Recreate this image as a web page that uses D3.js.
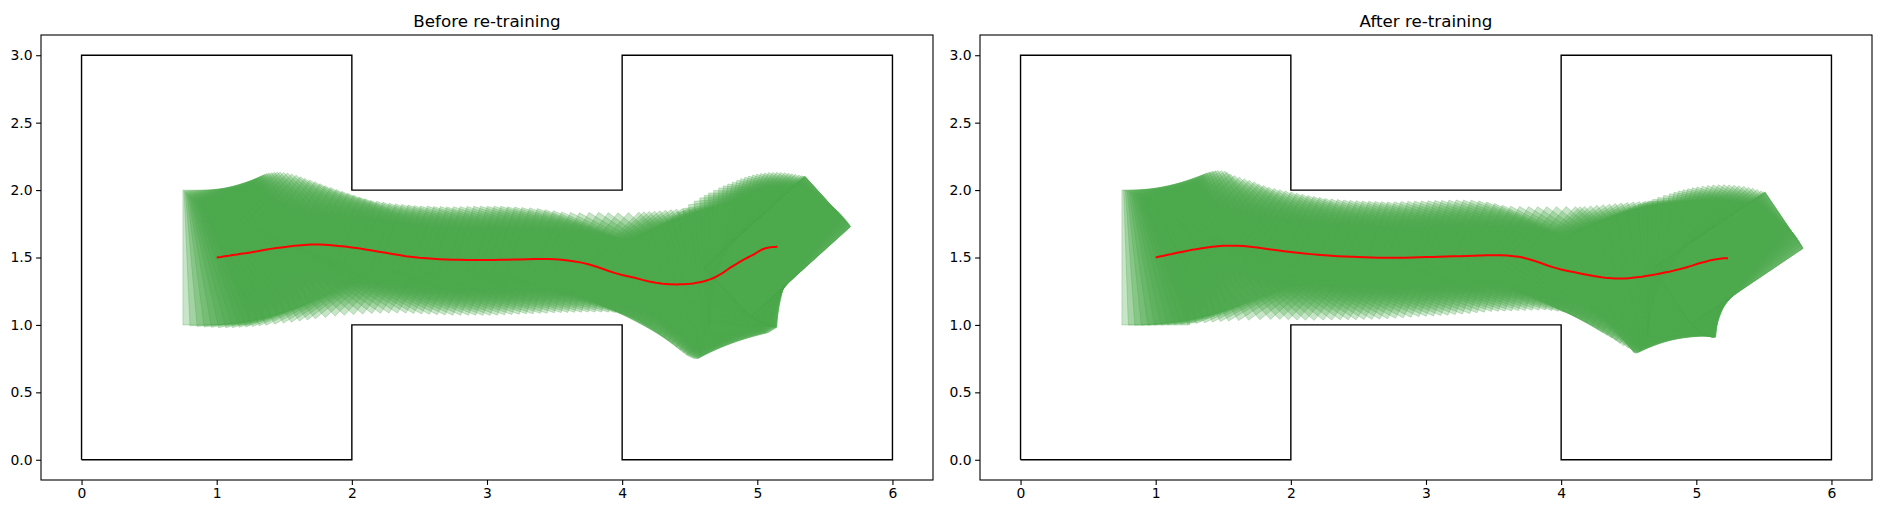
<!DOCTYPE html>
<html>
<head>
<meta charset="utf-8">
<script src="https://cdn.jsdelivr.net/npm/d3@7"></script>
<style>
body { margin: 0; background: #fff; }
text { font-family: "DejaVu Sans", sans-serif; fill: #000; }
</style>
</head>
<body>
<script>
// corridor outline (closed polygon)
var wallX = [0, 2, 2, 4, 4, 6, 6, 4, 4, 2, 2, 0, 0];
var wallY = [0, 0, 1, 1, 0, 0, 3, 3, 2, 2, 3, 3, 0];

var xTicks = [0, 1, 2, 3, 4, 5, 6];
var yTicks = [0, 0.5, 1, 1.5, 2, 2.5, 3];
var titles = ["Before re-training", "After re-training"];

// body states before re-training: centre x, centre y, heading (deg)
var beforeX = [1.00, 1.03, 1.06, 1.09, 1.12, 1.15, 1.18, 1.21, 1.24, 1.27, 1.30, 1.33, 1.36,
  1.40, 1.44, 1.48, 1.52, 1.56, 1.60,
  1.65, 1.70, 1.75, 1.80, 1.85, 1.90, 1.95, 2.00, 2.05, 2.10, 2.15, 2.20, 2.25, 2.30, 2.35, 2.40,
  2.45, 2.50, 2.55, 2.60, 2.65, 2.70, 2.75, 2.80, 2.85, 2.90, 2.95, 3.00, 3.05, 3.10,
  3.15, 3.20, 3.25, 3.30, 3.35, 3.40, 3.45, 3.50, 3.55,
  3.60, 3.65, 3.70, 3.75, 3.80, 3.85, 3.90, 3.95, 4.00, 4.05, 4.10, 4.15, 4.20, 4.25,
  4.30, 4.325, 4.35, 4.375, 4.40, 4.425, 4.45, 4.475, 4.50, 4.525, 4.55, 4.575, 4.60,
  4.625, 4.65, 4.675, 4.70, 4.725, 4.75, 4.775, 4.80, 4.825, 4.85, 4.87, 4.89,
  4.91, 4.93, 4.945, 4.96, 4.975, 4.99, 5.00, 5.01, 5.02, 5.03, 5.04, 5.05,
  5.06, 5.07, 5.08, 5.09, 5.10, 5.11, 5.118, 5.125, 5.132, 5.14, 5.145, 5.148,
  5.15, 5.15, 5.15, 5.15, 5.15, 5.15];
var beforeY = [1.500, 1.504, 1.509, 1.513, 1.518, 1.522, 1.527, 1.531, 1.536, 1.541, 1.546, 1.552, 1.557,
  1.564, 1.570, 1.575, 1.580, 1.585, 1.589,
  1.593, 1.596, 1.596, 1.594, 1.590, 1.586, 1.581, 1.575, 1.568, 1.560, 1.552, 1.543, 1.535, 1.526, 1.518, 1.510,
  1.504, 1.498, 1.494, 1.490, 1.487, 1.485, 1.484, 1.483, 1.482, 1.482, 1.482, 1.482, 1.482, 1.483,
  1.484, 1.485, 1.486, 1.487, 1.488, 1.488, 1.488, 1.487, 1.484,
  1.478, 1.471, 1.462, 1.450, 1.435, 1.418, 1.400, 1.384, 1.370, 1.359, 1.348, 1.334, 1.322, 1.312,
  1.306, 1.304, 1.302, 1.301, 1.300, 1.301, 1.302, 1.303, 1.305, 1.308, 1.312, 1.317, 1.322,
  1.329, 1.338, 1.348, 1.360, 1.374, 1.390, 1.407, 1.425, 1.440, 1.455, 1.467, 1.478,
  1.489, 1.500, 1.508, 1.515, 1.523, 1.532, 1.539, 1.545, 1.551, 1.556, 1.561, 1.565,
  1.568, 1.571, 1.573, 1.575, 1.576, 1.577, 1.5775, 1.578, 1.5785, 1.579, 1.579, 1.579,
  1.579, 1.579, 1.579, 1.579, 1.579, 1.579];
var beforeTheta = [0, 2.5, 5, 7.5, 10, 12.5, 15, 17, 19, 21, 23, 25, 27,
  29.5, 32, 34, 36, 38, 40,
  42.5, 45, 47, 49, 51, 53, 54.5, 56, 57.5, 59, 60, 61, 62, 63, 64, 65,
  66, 67, 67.5, 68, 68.5, 69, 69.5, 70, 70.5, 71, 71, 71.5, 71.5, 72,
  72, 72, 72, 72, 72, 72, 72, 72, 72,
  71.5, 71, 70, 69, 68, 66.5, 65, 63, 61, 58.5, 56, 53.5, 51, 48,
  45, 43.5, 42, 40.5, 39, 37.2, 35.5, 33.8, 32, 30, 28, 26, 24,
  21.8, 19.5, 17.2, 15, 13, 11, 9, 7, 5, 3, 1.5, 0,
  -2, -4, -6, -8, -10, -12, -14, -16, -18, -20, -22, -24,
  -26, -28, -30, -32, -34, -36, -38, -40, -42, -44, -45.5, -46.5,
  -47.2, -47.6, -47.9, -48, -48, -48];

// body states after re-training
var afterX = [1.00, 1.03, 1.06, 1.09, 1.12, 1.15, 1.18, 1.21, 1.24, 1.27, 1.30,
  1.34, 1.38, 1.42, 1.46, 1.50,
  1.55, 1.60, 1.65, 1.70, 1.75, 1.80, 1.85, 1.90, 1.95, 2.00, 2.05, 2.10, 2.15, 2.20, 2.25, 2.30,
  2.35, 2.40, 2.45, 2.50, 2.55, 2.60, 2.65, 2.70, 2.75, 2.80, 2.85, 2.90, 2.95, 3.00, 3.05,
  3.10, 3.15, 3.20, 3.25, 3.30, 3.35, 3.40, 3.45, 3.50,
  3.55, 3.60, 3.65, 3.70, 3.75, 3.80, 3.85, 3.90, 3.95, 4.00, 4.05, 4.10, 4.15, 4.20, 4.25,
  4.30, 4.325, 4.35, 4.375, 4.40, 4.425, 4.45, 4.475, 4.50, 4.525, 4.55, 4.575, 4.60,
  4.625, 4.65, 4.675, 4.70, 4.725, 4.75, 4.775, 4.80, 4.825, 4.85, 4.87, 4.89,
  4.91, 4.93, 4.95, 4.97, 4.985, 5.00, 5.015, 5.03, 5.045, 5.06, 5.075, 5.09,
  5.105, 5.12, 5.135, 5.15, 5.163, 5.175, 5.188, 5.20, 5.21, 5.22, 5.228, 5.232,
  5.235, 5.235, 5.235, 5.235];
var afterY = [1.500, 1.507, 1.513, 1.520, 1.526, 1.533, 1.539, 1.545, 1.551, 1.557, 1.562,
  1.569, 1.575, 1.580, 1.584, 1.587,
  1.588, 1.588, 1.585, 1.580, 1.574, 1.567, 1.560, 1.554, 1.547, 1.541, 1.535, 1.530, 1.525, 1.521, 1.517, 1.513,
  1.510, 1.507, 1.505, 1.503, 1.501, 1.500, 1.499, 1.498, 1.498, 1.498, 1.499, 1.500, 1.501, 1.503, 1.504,
  1.506, 1.507, 1.509, 1.510, 1.512, 1.513, 1.515, 1.516, 1.517,
  1.516, 1.514, 1.510, 1.503, 1.491, 1.476, 1.459, 1.441, 1.425, 1.411, 1.400, 1.390, 1.380, 1.370, 1.361,
  1.353, 1.350, 1.348, 1.346, 1.344, 1.344, 1.344, 1.345, 1.347, 1.349, 1.352, 1.355, 1.358,
  1.362, 1.366, 1.370, 1.375, 1.380, 1.385, 1.390, 1.395, 1.401, 1.407, 1.412, 1.417,
  1.422, 1.428, 1.434, 1.440, 1.445, 1.450, 1.455, 1.459, 1.463, 1.467, 1.471, 1.475,
  1.479, 1.482, 1.485, 1.487, 1.489, 1.491, 1.493, 1.494, 1.4945, 1.495, 1.495, 1.495,
  1.495, 1.495, 1.495, 1.495];
var afterTheta = [0, 2, 4, 6, 8, 10, 12, 14, 16, 18, 20,
  22.5, 24.5, 26.5, 28.5, 30.5,
  33, 35.5, 39, 42, 44, 45.5, 47, 48.5, 50, 52, 53.5, 55, 56, 57, 58, 59,
  60, 61, 62, 63, 64, 65, 65.5, 66, 66.5, 67, 67.5, 68, 68.5, 69, 69.5,
  70, 70, 70, 70, 70, 70, 70, 70, 70,
  69.5, 69, 68.5, 67.5, 66.5, 65.5, 64.5, 63.5, 62, 60, 58, 56, 54, 51.5, 49,
  47, 46, 45, 42.8, 40.5, 38.2, 36, 34, 32, 30, 28, 26, 24,
  22, 20, 17.8, 15.5, 13.2, 11, 9, 7, 5.2, 3.5, 1.8, 0,
  -2, -4, -6.5, -9, -11, -13, -15, -17, -19, -21, -23.5, -26,
  -28.5, -31, -33.5, -36, -38.5, -41, -43.5, -46, -48.5, -51, -53.5, -55,
  -55.7, -56, -56, -56];

// body size: length along heading, width across it
var bodyLength = 0.5, bodyWidth = 1.0;

var W = 1880, H = 514;
var axTop = 35, axBottom = 480;
var panels = [
  {left: 41, right: 933, xs: beforeX, ys: beforeY, th: beforeTheta},
  {left: 980, right: 1872, xs: afterX, ys: afterY, th: afterTheta}
];

var svg = d3.select("body").append("svg")
    .attr("width", W)
    .attr("height", H);

panels.forEach(function(p, k) {
  var x = d3.scaleLinear().domain([-0.3, 6.3]).range([p.left, p.right]);
  var y = d3.scaleLinear().domain([-0.15, 3.15]).range([axBottom, axTop]);
  var line = d3.line().x(function(d) { return x(d[0]); }).y(function(d) { return y(d[1]); });

  var g = svg.append("g");
  var clipId = "clip" + k;
  g.append("clipPath").attr("id", clipId)
    .append("rect")
      .attr("x", p.left).attr("y", axTop)
      .attr("width", p.right - p.left).attr("height", axBottom - axTop);

  var plot = g.append("g").attr("clip-path", "url(#" + clipId + ")");

  // walls
  plot.append("path")
      .attr("d", line(wallX.map(function(v, i) { return [v, wallY[i]]; })))
      .attr("fill", "none")
      .attr("stroke", "#000")
      .attr("stroke-width", 1.4)
      .attr("stroke-linejoin", "miter");

  // swept body rectangles
  var states = p.xs.map(function(v, i) { return {x: v, y: p.ys[i], t: p.th[i] * Math.PI / 180}; });
  plot.append("g").selectAll("path")
      .data(states)
    .enter().append("path")
      .attr("d", function(s) {
        var c = Math.cos(s.t), sn = Math.sin(s.t);
        var pts = [[-1, -1], [1, -1], [1, 1], [-1, 1]].map(function(q) {
          var a = q[0] * bodyLength / 2, b = q[1] * bodyWidth / 2;
          return [s.x + a * c - b * sn, s.y + a * sn + b * c];
        });
        return line(pts) + "Z";
      })
      .attr("fill", "rgb(77,168,77)")
      .attr("fill-opacity", 0.3)
      .attr("stroke", "rgb(77,168,77)")
      .attr("stroke-opacity", 0.3)
      .attr("stroke-width", 1);

  // centre path
  plot.append("path")
      .attr("d", line(states.map(function(s) { return [s.x, s.y]; })))
      .attr("fill", "none")
      .attr("stroke", "#ff0000")
      .attr("stroke-width", 2);

  // axes
  g.append("g")
      .attr("transform", "translate(0," + axBottom + ")")
      .call(d3.axisBottom(x).tickValues(xTicks).tickFormat(d3.format("d")).tickSizeOuter(0).tickSize(4.9).tickPadding(3.5))
      .call(styleAxis);
  g.append("g")
      .attr("transform", "translate(" + p.left + ",0)")
      .call(d3.axisLeft(y).tickValues(yTicks).tickFormat(d3.format(".1f")).tickSizeOuter(0).tickSize(4.9).tickPadding(3.5))
      .call(styleAxis);

  // frame
  g.append("rect")
      .attr("x", p.left).attr("y", axTop)
      .attr("width", p.right - p.left).attr("height", axBottom - axTop)
      .attr("fill", "none")
      .attr("stroke", "#000")
      .attr("stroke-width", 1.1);

  g.append("text")
      .attr("x", (p.left + p.right) / 2)
      .attr("y", axTop - 8.3)
      .attr("text-anchor", "middle")
      .style("font-size", "16.7px")
      .text(titles[k]);
});

function styleAxis(sel) {
  sel.select(".domain").remove();
  sel.selectAll(".tick line").attr("stroke", "#000").attr("stroke-width", 1.1);
  sel.selectAll(".tick text")
      .attr("fill", "#000")
      .style("font-size", "13.9px")
      .style("font-family", "'DejaVu Sans', sans-serif");
}
</script>
</body>
</html>
